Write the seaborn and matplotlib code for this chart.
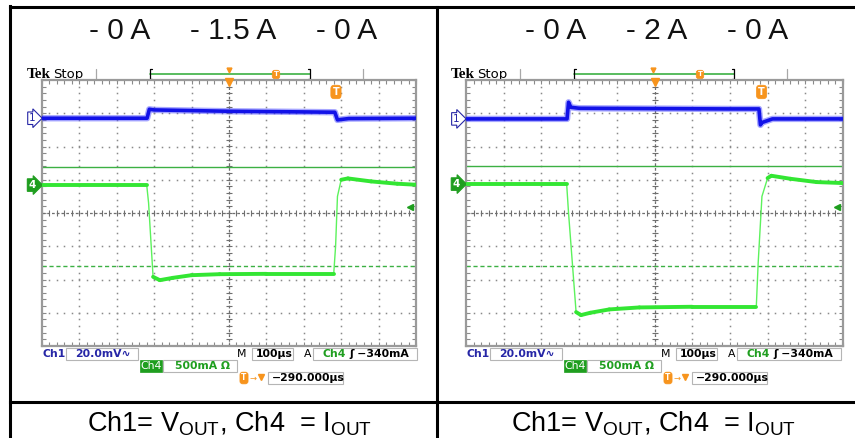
import numpy as np
import matplotlib
matplotlib.use("Agg")
import matplotlib.pyplot as plt
import seaborn as sns
from matplotlib.collections import LineCollection
from matplotlib.patches import Rectangle
from matplotlib.ticker import MultipleLocator

sns.set_style("white")
plt.rcParams['font.family'] = ['Liberation Sans', 'DejaVu Sans']
plt.rcParams['mathtext.fontset'] = 'custom'
plt.rcParams['mathtext.rm'] = 'Liberation Sans'
plt.rcParams['mathtext.it'] = 'Liberation Sans:italic'

# ---- values (time in us, levels in divisions) ----
titles = ["- 0 A     - 1.5 A     - 0 A", "- 0 A     - 2 A     - 0 A"]
caption = r"Ch1= V$_{\mathrm{OUT}}$, Ch4  = I$_{\mathrm{OUT}}$"

left_t_ch1 = [-500, -219, -213, -200, 0, 200, 283, 290, 320, 500]
left_ch1 = [2.85, 2.85, 3.12, 3.10, 3.06, 3.04, 3.03, 2.80, 2.84, 2.85]
left_t_ch4 = [-500, -220, -215, -203, -185, -150, -100, -25, 100, 280, 285, 290, 300, 318, 380, 450, 500]
left_ch4 = [0.84, 0.84, 0.3, -1.92, -2.02, -1.95, -1.87, -1.84, -1.83, -1.83, -1.0, 0.5, 1.0, 1.04, 0.95, 0.88, 0.85]

right_t_ch1 = [-500, -232, -228, -222, -200, 0, 200, 277, 281, 285, 313, 500]
right_ch1 = [2.83, 2.83, 3.33, 3.18, 3.15, 3.14, 3.13, 3.13, 2.65, 2.72, 2.83, 2.83]
right_t_ch4 = [-500, -233, -228, -208, -195, -170, -120, -40, 100, 270, 275, 285, 300, 310, 360, 430, 500]
right_ch4 = [0.87, 0.87, 0.0, -2.98, -3.07, -3.0, -2.9, -2.84, -2.82, -2.82, -1.5, 0.5, 1.05, 1.12, 1.03, 0.93, 0.90]

ref_levels = [1.38, 1.42]      # solid green cursor
dash_levels = [-1.6, -1.6]     # dashed green cursor
trig_levels = [0.18, 0.19]     # trigger level arrow
trig_times = [286, 284]        # "T" marker position
ch1_scale = "20.0mV"
ch4_scale = "500mA"
time_scale = "100\u00b5s"
trig_text = "\u2212340mA"
offset_text = "\u2212290.000\u00b5s"

colors = {
    'blue': '#1212e8',
    'blue_band': '#5050ff',
    'green': '#33e633',
    'cursor': '#3cb043',
    'grid': '#8a8a8a',
    'orange': '#f7941d',
    'label_blue': '#2626a6',
    'label_green': '#1f9e1f',
}

W, H = 855, 438
fig = plt.figure(figsize=(W / 100, H / 100), dpi=100)
bg = fig.add_axes([0, 0, 1, 1], zorder=0)
bg.set_xlim(0, W)
bg.set_ylim(H, 0)
bg.axis('off')

# outer table lines
for (x0, y0, x1, y1) in [(10, 7, 855, 7), (10, 5.5, 10, 438), (437, 7, 437, 438), (10, 402, 855, 402)]:
    bg.plot([x0, x1], [y0, y1], color='black', lw=2.2, solid_capstyle='projecting')


def t_icon(ax, x, y, fs, transform=None):
    kw = {} if transform is None else {'transform': transform}
    ax.text(x, y, "T", color='white', ha='center', va='center', fontsize=fs,
            fontweight='bold', family='DejaVu Sans', zorder=7, clip_on=False,
            bbox=dict(boxstyle='round,pad=0.18,rounding_size=0.35', fc=colors['orange'], ec=colors['orange'], lw=0.5),
            **kw)


def graticule(ax):
    ax.set_xlim(-500, 500)
    ax.set_ylim(-4, 4)
    ys = np.arange(-4, 4.01, 0.2)
    xs = np.arange(-500, 501, 20)
    for x in range(-400, 500, 100):
        if x != 0:
            ax.plot(np.full(len(ys), x), ys, ls='none', marker='s', ms=1.1, mew=0, color=colors['grid'], zorder=1)
    for y in range(-3, 4):
        if y != 0:
            ax.plot(xs, np.full(len(xs), y), ls='none', marker='s', ms=1.1, mew=0, color=colors['grid'], zorder=1)
    ax.axhline(0, color='#6f6f6f', lw=0.9, ls=(0, (2.2, 1.6)), zorder=1)
    ax.axvline(0, color='#6f6f6f', lw=0.9, ls=(0, (2.2, 1.6)), zorder=1)
    ax.plot(xs, np.zeros(len(xs)), ls='none', marker='|', ms=4, mew=0.8, color='#6f6f6f', zorder=1)
    ax.plot(np.zeros(len(ys)), ys, ls='none', marker='_', ms=4, mew=0.8, color='#6f6f6f', zorder=1)
    ax.xaxis.set_major_locator(MultipleLocator(100))
    ax.xaxis.set_minor_locator(MultipleLocator(20))
    ax.yaxis.set_major_locator(MultipleLocator(1))
    ax.yaxis.set_minor_locator(MultipleLocator(0.2))
    ax.tick_params(which='both', direction='in', length=3, width=0.8, color=colors['grid'],
                   top=True, right=True, bottom=True, left=True,
                   labelbottom=False, labelleft=False)
    ax.grid(False)
    for s in ax.spines.values():
        s.set_color('#9a9a9a')
        s.set_linewidth(1.6)


def panel(gx, gw, t1, v1, t4, v4, ref, dash, trig, trig_t, title):
    top, bottom = 80, 346
    ax = fig.add_axes([gx / W, 1 - bottom / H, gw / W, (bottom - top) / H], zorder=2)
    ax.set_facecolor('white')
    graticule(ax)

    # cursors
    ax.axhline(ref, color=colors['cursor'], lw=1.0, zorder=2)
    ax.axhline(dash, color=colors['cursor'], lw=1.0, ls=(0, (3, 2)), zorder=2)

    # Ch1 trace (noisy band)
    sns.lineplot(x=t1, y=v1, ax=ax, color=colors['blue_band'], lw=4.6, alpha=0.5,
                 estimator=None, sort=False, legend=False, zorder=3)
    sns.lineplot(x=t1, y=v1, ax=ax, color=colors['blue'], lw=2.6,
                 estimator=None, sort=False, legend=False, zorder=4)

    # Ch4 trace: thin on fast edges, thick on the flat parts
    sns.lineplot(x=t4, y=v4, ax=ax, color='#5cf25c', lw=1.0,
                 estimator=None, sort=False, legend=False, zorder=4)
    pts = np.column_stack([t4, v4])
    segs = np.stack([pts[:-1], pts[1:]], axis=1)
    slope = np.abs(np.diff(v4) / np.diff(t4))
    widths = np.where(slope > 0.03, 0.0, 2.8)
    ax.add_collection(LineCollection(segs, linewidths=widths, colors=colors['green'],
                                     capstyle='round', zorder=4))
    ax.set_xlim(-500, 500)
    ax.set_ylim(-4, 4)

    # channel markers on the left edge
    tr = ax.get_yaxis_transform()
    ax.text(-0.026, v1[0], "1", transform=tr, ha='center', va='center', fontsize=7.5, color=colors['label_blue'],
            family='DejaVu Sans', clip_on=False,
            bbox=dict(boxstyle='rarrow,pad=0.12', fc='white', ec=colors['label_blue'], lw=0.8))
    ax.text(-0.026, v4[0], "4", transform=tr, ha='center', va='center', fontsize=7.5, color='white',
            family='DejaVu Sans', fontweight='bold', clip_on=False,
            bbox=dict(boxstyle='rarrow,pad=0.12', fc=colors['label_green'], ec=colors['label_green'], lw=0.8))
    # trigger level arrow on the right edge
    ax.plot([485], [trig], marker='<', ms=4.5, color=colors['label_green'], clip_on=False, zorder=5)
    # trigger position marker at top of graticule
    ax.plot([0], [3.93], marker='v', ms=6, color=colors['orange'], clip_on=False, zorder=5)
    t_icon(ax, trig_t, 3.64, 7)

    # --- text / bars in pixel space ---
    off = gx - 42
    bg.text(gx + 191, 31, title, ha='center', va='center', fontsize=21.5, color='#111111')
    # top record bar
    bg.text(off + 27, 75, "Tek", fontsize=11, fontweight='bold', family='Liberation Serif', va='center', color='black')
    bg.text(off + 53, 74.5, "Stop", fontsize=9.5, family='DejaVu Sans', va='center', color='black')
    for x in (96, 363):
        bg.plot([off + x, off + x], [69, 80], color='#a8a8a8', lw=0.9)
    bg.plot([off + 150, off + 310], [74, 74], color=colors['cursor'], lw=1.2)
    for x, d in ((150, 2), (310, -2)):
        bg.plot([off + x + d, off + x, off + x, off + x + d], [69, 69, 79, 79], color='black', lw=0.9)
    bg.plot([off + 229], [69.5], marker='v', ms=3.5, color=colors['orange'])
    t_icon(bg, off + 276, 74.5, 5)

    # status rows
    fs = 7.8
    mono = dict(family='DejaVu Sans', fontweight='bold', fontsize=fs, va='center')
    bg.text(gx, 354, "Ch1", color=colors['label_blue'], **mono)
    bg.add_patch(Rectangle((off + 66, 348), 72, 12, fill=False, ec='#b5b5b5', lw=0.8))
    bg.text(off + 75, 354, ch1_scale + "\u223f", color=colors['label_blue'], **mono)
    bg.text(off + 237, 354, "M", color='black', **dict(mono, fontweight='normal'))
    bg.add_patch(Rectangle((off + 252, 348), 41, 12, fill=False, ec='#b5b5b5', lw=0.8))
    bg.text(off + 256, 354, time_scale, color='black', **mono)
    bg.text(off + 304, 354, "A", color='black', **dict(mono, fontweight='normal'))
    bg.add_patch(Rectangle((off + 313, 348), 104, 12, fill=False, ec='#b5b5b5', lw=0.8))
    bg.text(off + 322, 354, "Ch4", color=colors['label_green'], **mono)
    bg.text(off + 349, 354, "\u0283 " + trig_text, color='black', **mono)

    bg.add_patch(Rectangle((off + 140, 360), 22, 12, fc=colors['label_green'], ec=colors['label_green'], lw=0.5))
    bg.text(off + 151, 366, "Ch4", color='white', ha='center', **dict(mono, fontweight='normal'))
    bg.add_patch(Rectangle((off + 163, 360), 74, 12, fill=False, ec='#b5b5b5', lw=0.8))
    bg.text(off + 175, 366, ch4_scale + " \u03a9", color=colors['label_green'], **mono)

    t_icon(bg, off + 244, 378, 5.5)
    bg.text(off + 249, 378, "\u2192", color=colors['orange'], fontsize=6, va='center', family='DejaVu Sans')
    bg.plot([off + 261], [377], marker='v', ms=4, color=colors['orange'])
    bg.add_patch(Rectangle((off + 268, 372), 75, 12, fill=False, ec='#b5b5b5', lw=0.8))
    bg.text(off + 272, 378, offset_text, color='black', **mono)

    # caption
    bg.text(gx + 188, 432, caption, ha='center', va='baseline', fontsize=19.5, color='black')


panel(42, 374, left_t_ch1, left_ch1, left_t_ch4, left_ch4,
      ref_levels[0], dash_levels[0], trig_levels[0], trig_times[0], titles[0])
panel(466, 377, right_t_ch1, right_ch1, right_t_ch4, right_ch4,
      ref_levels[1], dash_levels[1], trig_levels[1], trig_times[1], titles[1])

fig.savefig("out.png", dpi=100, facecolor='white')
